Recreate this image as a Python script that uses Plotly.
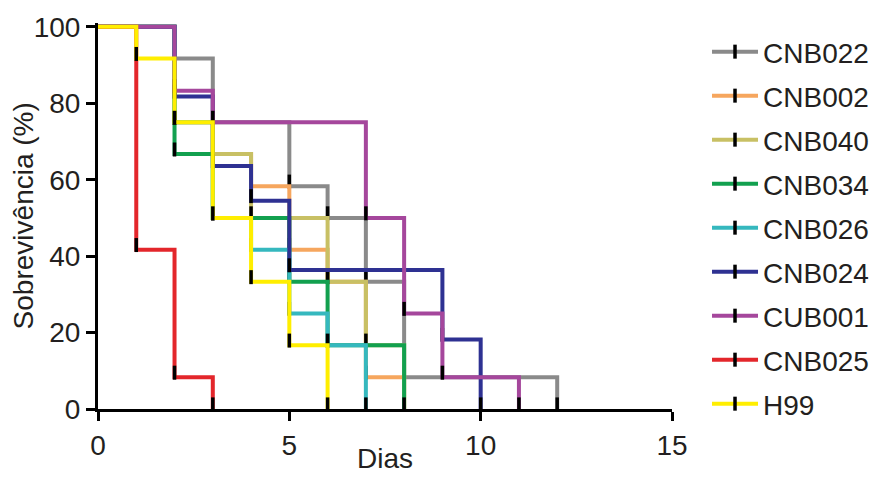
import plotly.graph_objects as go

# ---- data (Kaplan-Meier steps: day of event, survival % after event) ----
strains = ["CNB022", "CNB002", "CNB040", "CNB034", "CNB026", "CNB024", "CUB001", "CNB025", "H99"]

CNB022_days = [0, 2, 3, 5, 6, 7, 8, 12]
CNB022_surv = [100, 91.7, 75, 58.3, 50, 33.3, 8.3, 0]
CNB002_days = [0, 2, 3, 4, 5, 6, 7, 8]
CNB002_surv = [100, 75, 66.7, 58.3, 41.7, 33.3, 8.3, 0]
CNB040_days = [0, 2, 3, 4, 6, 7, 8]
CNB040_surv = [100, 75, 66.7, 50, 33.3, 16.7, 0]
CNB034_days = [0, 2, 3, 5, 6, 8]
CNB034_surv = [100, 66.7, 50, 33.3, 16.7, 0]
CNB026_days = [0, 2, 3, 4, 5, 6, 7]
CNB026_surv = [100, 75, 50, 41.7, 25, 16.7, 0]
CNB024_days = [0, 2, 3, 4, 5, 9, 10]
CNB024_surv = [100, 81.8, 63.6, 54.5, 36.4, 18.2, 0]
CUB001_days = [0, 2, 3, 7, 8, 9, 11]
CUB001_surv = [100, 83.3, 75, 50, 25, 8.3, 0]
CNB025_days = [0, 1, 2, 3]
CNB025_surv = [100, 41.7, 8.3, 0]
H99_days = [0, 1, 2, 3, 4, 5, 6]
H99_surv = [100, 91.7, 75, 50, 33.3, 16.7, 0]

x_ticks = [0, 5, 10, 15]
y_ticks = [0, 20, 40, 60, 80, 100]

series = {
    "CNB022": (CNB022_days, CNB022_surv),
    "CNB002": (CNB002_days, CNB002_surv),
    "CNB040": (CNB040_days, CNB040_surv),
    "CNB034": (CNB034_days, CNB034_surv),
    "CNB026": (CNB026_days, CNB026_surv),
    "CNB024": (CNB024_days, CNB024_surv),
    "CUB001": (CUB001_days, CUB001_surv),
    "CNB025": (CNB025_days, CNB025_surv),
    "H99": (H99_days, H99_surv),
}

colors = {
    "CNB022": "#8A8A8A",
    "CNB002": "#F6A65E",
    "CNB040": "#C8C064",
    "CNB034": "#12A04F",
    "CNB026": "#35B8BE",
    "CNB024": "#2E3192",
    "CUB001": "#A5479C",
    "CNB025": "#E3262B",
    "H99": "#FFEE00",
}

FONT = "Liberation Sans, Arial, sans-serif"
TEXT = "#231F20"
FS = 28
LINE_W = 4
TICK_LIFT = 1.2  # lift of the black step ticks, in % units
TICK_MARK = dict(symbol="line-ns", size=10, color="black", line=dict(color="black", width=3.5))

fig = go.Figure()

for name in strains:
    d, s = series[name]
    fig.add_trace(go.Scatter(
        x=d, y=s, mode="lines", line=dict(color=colors[name], width=LINE_W, shape="hv"),
        showlegend=False, hoverinfo="skip"))
    fig.add_trace(go.Scatter(
        x=d[1:], y=[v + TICK_LIFT for v in s[1:]], mode="markers", marker=TICK_MARK,
        showlegend=False, hoverinfo="skip", cliponaxis=False))

# one small legend per strain, stacked down the right side
LEG_X = 1.061
LEG_TOP = 0.925   # paper y of first entry
LEG_STEP = 0.114  # paper spacing between entries
legend_layouts = {}
for i, name in enumerate(strains):
    key = "legend" if i == 0 else f"legend{i + 1}"
    fig.add_trace(go.Scatter(
        x=[None], y=[None], mode="lines+markers", name=name, legend=key,
        line=dict(color=colors[name], width=LINE_W), marker=TICK_MARK))
    legend_layouts[key] = dict(
        x=LEG_X, y=LEG_TOP - i * LEG_STEP, xanchor="left", yanchor="middle",
        font=dict(family=FONT, size=FS, color=TEXT), itemwidth=46,
        bgcolor="rgba(0,0,0,0)", borderwidth=0)

fig.update_layout(
    width=870, height=490,
    margin=dict(l=90, r=206, t=15, b=89, autoexpand=False),
    plot_bgcolor="white", paper_bgcolor="white",
    font=dict(family=FONT, size=FS, color=TEXT),
    showlegend=True,
    xaxis=dict(range=[0, 15], tickvals=x_ticks, ticktext=[str(v) for v in x_ticks],
               showgrid=False, zeroline=False, showline=True, linecolor="black", linewidth=3,
               ticks="outside", ticklen=9, tickwidth=3, tickcolor="black", automargin=False,
               tickfont=dict(family=FONT, size=FS, color=TEXT)),
    yaxis=dict(range=[0, 101], tickvals=y_ticks, ticktext=[str(v) for v in y_ticks],
               showgrid=False, zeroline=False, showline=True, linecolor="black", linewidth=3,
               ticks="outside", ticklen=9, tickwidth=3, tickcolor="black", automargin=False,
               tickfont=dict(family=FONT, size=FS, color=TEXT)),
    annotations=[
        dict(text="Dias", xref="paper", yref="paper", x=0.5, y=-0.127,
             xanchor="center", yanchor="middle", showarrow=False,
             font=dict(family=FONT, size=FS, color=TEXT)),
        dict(text="Sobrevivência (%)", xref="paper", yref="paper", x=-0.13, y=0.5,
             xanchor="center", yanchor="middle", showarrow=False, textangle=-90,
             font=dict(family=FONT, size=FS, color=TEXT)),
    ],
    **legend_layouts,
)

fig.write_html("out.html")
